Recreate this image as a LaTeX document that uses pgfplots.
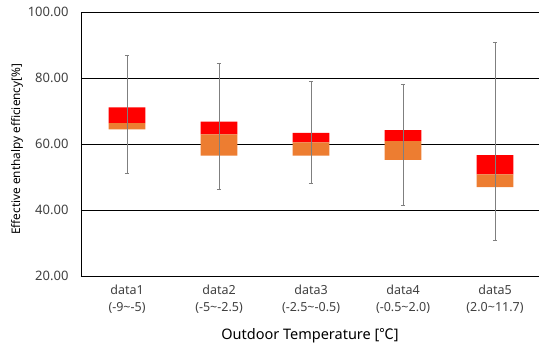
\documentclass[border=0pt]{standalone}
\usepackage{fontspec}
\setmainfont{Noto Sans}
\newfontfamily\cjk{Noto Sans CJK KR}
\usepackage{pgfplots}
\pgfplotsset{compat=1.18}
\definecolor{boxred}{HTML}{FF0000}
\definecolor{boxorange}{HTML}{ED7D31}
\definecolor{whisk}{HTML}{7F7F7F}
\definecolor{txt}{HTML}{404040}
\begin{document}
\begin{tikzpicture}[x=1pt,y=1pt]
\pgfplotsset{
  common/.style={
    at={(81pt,71pt)}, anchor=south west,
    scale only axis, width=458pt, height=264pt,
    xmin=0.5, xmax=5.478, ymin=20, ymax=100,
    clip=true,
  }
}
\begin{axis}[common,
  ybar stacked, bar width=36.7pt,
  axis x line*=bottom, axis y line*=left,
  axis line style={black, line width=0.8pt},
  ytick={20,40,60,80,100},
  yticklabel style={font=\fontsize{13}{15}\selectfont, text=txt, xshift=-9pt},
  /pgf/number format/assume math mode=true,
  yticklabel={\pgfmathprintnumber[fixed,fixed zerofill,precision=2]{\tick}},
  ymajorgrids, grid style={black, line width=0.8pt},
  major tick length=0pt,
  xtick={1,2,3,4,5},
  xticklabels={{data1\\(-9\textasciitilde-5)},{data2\\(-5\textasciitilde-2.5)},{data3\\(-2.5\textasciitilde-0.5)},{data4\\(-0.5\textasciitilde2.0)},{data5\\(2.0\textasciitilde11.7)}},
  xticklabel style={font=\fontsize{12.5}{17}\selectfont, text=txt, align=center, yshift=-5pt},
  ylabel={Effective enthalpy efficiency[\%]},
  ylabel style={at={(axis description cs:-0.1397,0.48)}, anchor=center, rotate=0, font=\fontsize{11.8}{13}\selectfont, text=black},
  xlabel={Outdoor Temperature [{\cjk ℃}]},
  xlabel style={at={(axis description cs:0.5,-0.227)}, anchor=center, font=\fontsize{14.5}{16}\selectfont, text=black},
]
% invisible base (lower quartile)
\addplot[draw=none, fill=none] coordinates {(1,64.4) (2,56.5) (3,56.5) (4,55.2) (5,46.9)};
% orange: lower quartile -> median
\addplot[draw=none, fill=boxorange] coordinates {(1,1.9) (2,6.4) (3,4.0) (4,5.7) (5,3.9)};
% red: median -> upper quartile
\addplot[draw=none, fill=boxred] coordinates {(1,4.8) (2,3.9) (3,2.9) (4,3.3) (5,5.8)};
\end{axis}
\begin{axis}[common, hide axis]
\addplot[draw=none, mark=none,
  error bars/.cd, y dir=both, y explicit,
  error bar style={whisk, line width=1pt},
  error mark options={whisk, rotate=90, mark size=2.2pt, line width=0.8pt}]
  table[x=x, y=y, y error plus=ep, y error minus=em] {
  x   y     ep    em
  1   51.1  35.6  0
  2   46.1  38.4  0
  3   48.1  30.9  0
  4   41.5  36.6  0
  5   30.9  60.0  0
};
\end{axis}
\pgfresetboundingbox
\useasboundingbox (0,0) rectangle (539,347);
\end{tikzpicture}
\end{document}
